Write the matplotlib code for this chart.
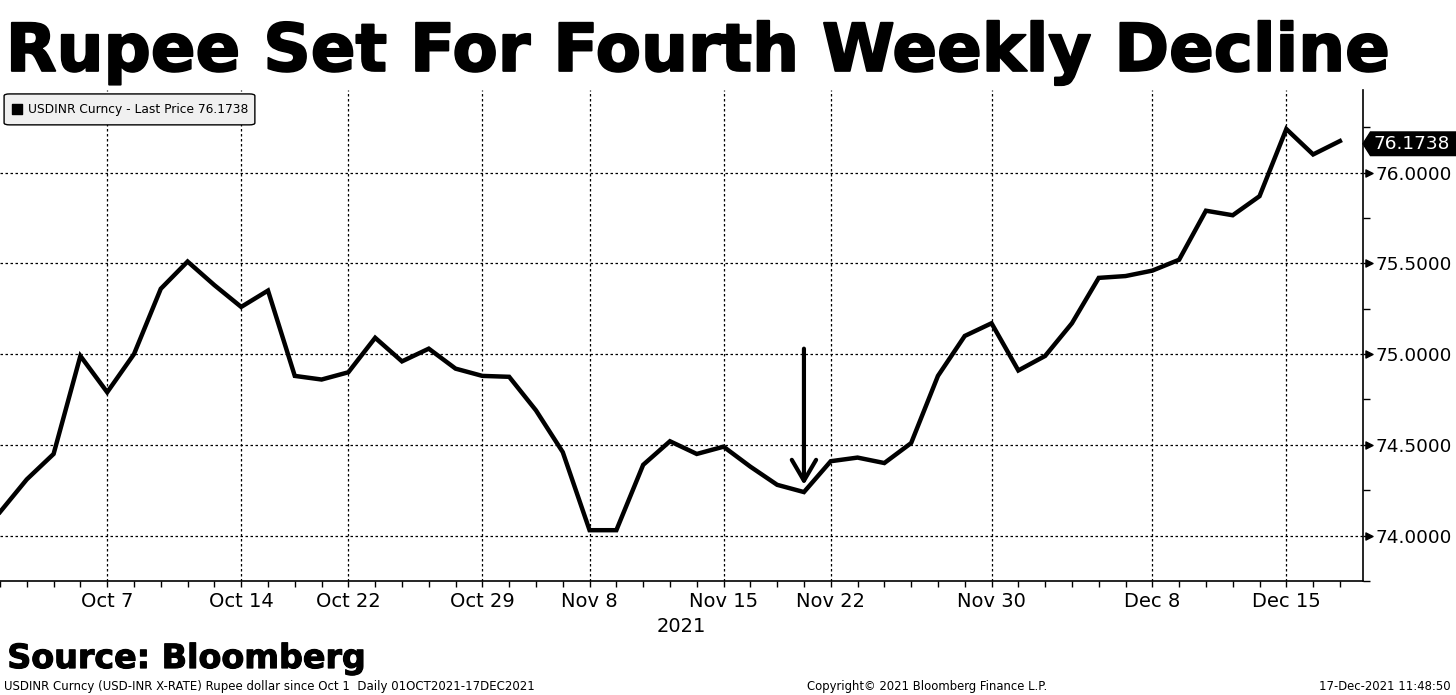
import numpy as np
import matplotlib.pyplot as plt
import matplotlib.transforms as mtransforms
import matplotlib.patheffects as pe
from matplotlib.patches import FancyBboxPatch, Polygon

# USDINR daily closes, Oct 1 - Dec 17 2021
usdinr = [74.13, 74.31, 74.45, 74.99, 74.79, 75.00, 75.36, 75.51, 75.38, 75.26,
          75.35, 74.88, 74.86, 74.90, 75.09, 74.96, 75.03, 74.92, 74.88, 74.875,
          74.69, 74.46, 74.03, 74.03, 74.39, 74.52, 74.45, 74.49, 74.38, 74.28,
          74.24, 74.41, 74.43, 74.40, 74.51, 74.88, 75.10, 75.17, 74.91, 74.99,
          75.17, 75.42, 75.43, 75.46, 75.52, 75.79, 75.765, 75.87, 76.24, 76.10,
          76.1738]
date_idx = [4, 9, 13, 18, 22, 27, 31, 37, 43, 48]
date_labels = ['Oct 7', 'Oct 14', 'Oct 22', 'Oct 29', 'Nov 8', 'Nov 15',
               'Nov 22', 'Nov 30', 'Dec 8', 'Dec 15']
y_ticks = [74.0, 74.5, 75.0, 75.5, 76.0]
last_price = 76.1738
arrow_idx = 30
arrow_from, arrow_to = 75.03, 74.28

fig = plt.figure(figsize=(14.56, 6.95), dpi=100)
ax = fig.add_axes([0.0, 0.164, 0.9361, 0.7065])

x = np.arange(len(usdinr))
ax.plot(x, usdinr, color='black', lw=3.2, solid_joinstyle='miter', clip_on=False)

ax.set_xlim(0, 50.86)
ax.set_ylim(73.80, 76.455)

# axes styling
for s in ['top', 'left']:
    ax.spines[s].set_visible(False)
ax.spines['bottom'].set_linewidth(1.2)
ax.spines['right'].set_linewidth(1.2)

ax.yaxis.tick_right()
ax.set_yticks(y_ticks)
ax.set_yticklabels(['%.4f' % v for v in y_ticks], fontsize=13.3)
ax.set_yticks(np.arange(73.75, 76.5, 0.25), minor=True)
ax.tick_params(axis='y', which='both', direction='out', length=5, width=1, pad=4)

ax.set_xticks(date_idx)
ax.set_xticklabels(date_labels, fontsize=14)
ax.set_xticks(x, minor=True)
ax.tick_params(axis='x', which='both', direction='out', length=4, width=1, pad=4)

ax.grid(True, which='major', color='black', linestyle=(0, (2, 2)), lw=0.9)

# little arrowheads at labelled y ticks
tr = mtransforms.blended_transform_factory(ax.transAxes, ax.transData)
ax.scatter([1.0045] * len(y_ticks), y_ticks, marker='>', s=26, color='black',
           transform=tr, clip_on=False, zorder=5)

# last price tag
tag_y = last_price - 0.015
tag = Polygon([(1.0, tag_y), (1.0055, tag_y + 0.065), (1.08, tag_y + 0.065),
               (1.08, tag_y - 0.065), (1.0055, tag_y - 0.065)],
              closed=True, transform=tr, color='black', clip_on=False)
ax.add_patch(tag)
ax.text(1.0075, tag_y, '%.4f' % last_price, transform=tr, color='white',
        fontsize=13.3, va='center', ha='left')

# arrow marker
ax.annotate('', xy=(arrow_idx, arrow_to), xytext=(arrow_idx, arrow_from),
            arrowprops=dict(arrowstyle='->,head_length=0.6,head_width=0.35', color='black',
                            lw=3, mutation_scale=25, shrinkA=0, shrinkB=0))

# legend box
box = FancyBboxPatch((0.003, 0.929), 0.184, 0.063, boxstyle='round,pad=0,rounding_size=0.004',
                     transform=ax.transAxes, facecolor='#f0f0f0', edgecolor='black',
                     lw=1, clip_on=False, zorder=6)
ax.add_patch(box)
ax.scatter([0.0128], [0.9605], marker='s', s=60, color='black', transform=ax.transAxes,
           clip_on=False, zorder=7)
ax.text(0.0205, 0.9605, 'USDINR Curncy - Last Price %.4f' % last_price, transform=ax.transAxes,
        fontsize=8.8, va='center', ha='left', zorder=7)

# titles and footer
fig.text(0.004, 0.898, 'Rupee Set For Fourth Weekly Decline', fontsize=47.5,
         fontweight='bold', va='baseline', ha='left',
         path_effects=[pe.withStroke(linewidth=1.4, foreground='black')])
fig.text(0.468, 0.098, '2021', fontsize=14, ha='center', va='center')
fig.text(0.005, 0.0388, 'Source: Bloomberg', fontsize=24, fontweight='bold',
         va='baseline', ha='left',
         path_effects=[pe.withStroke(linewidth=0.8, foreground='black')])
fig.text(0.003, 0.012, 'USDINR Curncy (USD-INR X-RATE) Rupee dollar since Oct 1  Daily 01OCT2021-17DEC2021',
         fontsize=8.5, va='center', ha='left')
fig.text(0.637, 0.012, 'Copyright\u00a9 2021 Bloomberg Finance L.P.', fontsize=8.4,
         va='center', ha='center')
fig.text(0.996, 0.012, '17-Dec-2021 11:48:50', fontsize=8.4, va='center', ha='right')

fig.savefig('out.png', dpi=100)
